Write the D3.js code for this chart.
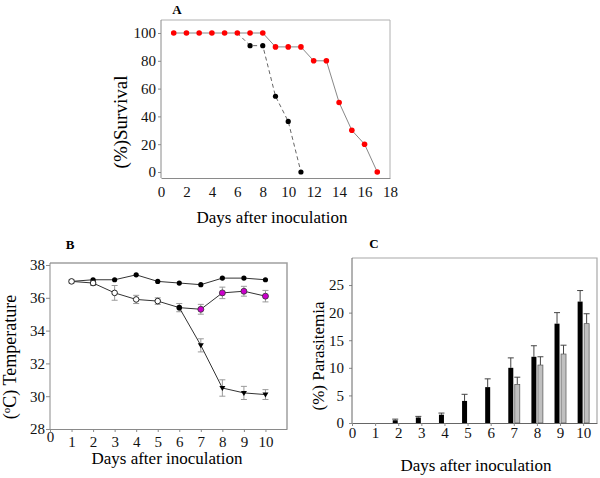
<!DOCTYPE html>
<html><head><meta charset="utf-8">
<script src="https://cdn.jsdelivr.net/npm/d3@7/dist/d3.min.js"></script>
<style>
html,body{margin:0;padding:0;background:#fff;}
svg{display:block;}
svg text{font-family:"Liberation Serif","Times New Roman",serif;}
</style></head><body>
<svg id="c" width="600" height="478"></svg>
<script>
// ---- Panel A: survival ----
const survDaysTreated = [1,2,3,4,5,6,7,8,9,10,11,12,13,14,15,16,17];
const survTreated = [100,100,100,100,100,100,100,100,90,90,90,80,80,50,30,20,0];
const survDaysControl = [1,2,3,4,5,6,7,8,9,10,11];
const survControl = [100,100,100,100,100,100,90.9,90.9,54.5,36.4,0];
const survXTicks = [0,2,4,6,8,10,12,14,16,18];
const survYTicks = [0,20,40,60,80,100];

// ---- Panel B: temperature ----
const tempDays = [1,2,3,4,5,6,7,8,9,10];
const tempControl = [37.0,37.1,37.1,37.4,37.0,36.9,36.8,37.2,37.2,37.1];
const tempInfDays = [1,2,3,4,5,6];
const tempInf = [37.0,36.9,36.3,35.9,35.8,35.4];
const tempInfErr = [0.1,0.15,0.45,0.25,0.2,0.25];
const tempSurvDays = [6,7,8,9,10];
const tempSurv = [35.4,35.3,36.3,36.4,36.1];
const tempSurvErr = [0.25,0.3,0.35,0.3,0.35];
const tempDeadDays = [6,7,8,9,10];
const tempDead = [35.4,33.1,30.5,30.2,30.1];
const tempDeadErr = [0.25,0.4,0.5,0.4,0.3];
const tempXTicks = [0,1,2,3,4,5,6,7,8,9,10];
const tempYTicks = [28,30,32,34,36,38];

// ---- Panel C: parasitemia ----
const paraDays = [1,2,3,4,5,6,7,8,9,10];
const paraBlack = [0,0.5,1.0,1.5,4.0,6.5,10,12,18,22];
const paraBlackErr = [0,0.2,0.2,0.3,1.2,1.5,1.8,2.0,2.0,2.0];
const paraGray = [0,0,0,0,0,0,7,10.5,12.5,18];
const paraGrayErr = [0,0,0,0,0,0,1.3,1.5,1.6,1.8];
const paraXTicks = [0,1,2,3,4,5,6,7,8,9,10];
const paraYTicks = [0,5,10,15,20,25];

const svg = d3.select("#c");
const axisCol = "#8a8a8a";

function styleAxis(g, fs){
  g.attr("font-family",null);
  g.select(".domain").attr("stroke", axisCol);
  g.selectAll(".tick line").attr("stroke", axisCol);
  g.selectAll(".tick text").attr("fill","#111").attr("font-size", fs);
}

// ================= Panel A =================
{
  const x = d3.scaleLinear().domain([0,18]).range([161,390]);
  const y = d3.scaleLinear().domain([0,100]).range([172,33]);
  const top = 20, bottom = 178;
  svg.append("path").attr("d",`M${x(0)},${top}H${x(18)}V${bottom}`).attr("fill","none").attr("stroke","#b0b0b0");
  const ya = svg.append("g").attr("transform",`translate(${x(0)},0)`)
    .call(d3.axisLeft(y).tickValues(survYTicks).tickSize(3).tickSizeOuter(0).tickPadding(2));
  ya.select(".domain").remove();
  svg.append("line").attr("x1",x(0)).attr("x2",x(0)).attr("y1",top).attr("y2",bottom).attr("stroke",axisCol);
  styleAxis(ya,"15px");
  const xa = svg.append("g").attr("transform",`translate(0,${bottom})`)
    .call(d3.axisBottom(x).tickValues(survXTicks).tickSize(0).tickPadding(8));
  styleAxis(xa,"15px");
  const line = d3.line().x(d=>x(d[0])).y(d=>y(d[1]));
  const ctrl = survDaysControl.map((d,i)=>[d,survControl[i]]);
  svg.append("path").datum(ctrl.slice(5)).attr("d",line).attr("fill","none")
    .attr("stroke","#666").attr("stroke-dasharray","4,3").attr("stroke-width",1);
  const trt = survDaysTreated.map((d,i)=>[d,survTreated[i]]);
  svg.append("path").datum(trt).attr("d",line).attr("fill","none").attr("stroke","#888").attr("stroke-width",1);
  svg.selectAll(".cdot").data(ctrl.slice(6)).enter().append("circle")
    .attr("cx",d=>x(d[0])).attr("cy",d=>y(d[1])).attr("r",2.6).attr("fill","#000");
  svg.selectAll(".tdot").data(trt).enter().append("circle")
    .attr("cx",d=>x(d[0])).attr("cy",d=>y(d[1])).attr("r",2.8).attr("fill","#ff0000");
  svg.append("text").attr("x",177).attr("y",14).attr("font-weight","bold").attr("font-size","13px").attr("text-anchor","middle").text("A");
  svg.append("text").attr("transform","translate(127,122) rotate(-90)").attr("text-anchor","middle")
    .attr("font-size","19px").text("(%)Survival");
  svg.append("text").attr("x",272).attr("y",223).attr("text-anchor","middle").attr("font-size","17px").text("Days after inoculation");
}

// ================= Panel B =================
{
  const x = d3.scaleLinear().domain([0,11]).range([50,287]);
  const y = d3.scaleLinear().domain([28,38]).range([429,265]);
  const top = 263, bottom = 429;
  svg.append("path").attr("d",`M${x(0)},${top}H${x(11)}V${bottom}`).attr("fill","none").attr("stroke","#a0a0a0").attr("stroke-width",1.5);
  const ya = svg.append("g").attr("transform",`translate(${x(0)},0)`)
    .call(d3.axisLeft(y).tickValues(tempYTicks).tickSize(4).tickSizeOuter(0).tickPadding(1));
  ya.select(".domain").remove();
  svg.append("line").attr("x1",x(0)).attr("x2",x(0)).attr("y1",top).attr("y2",bottom).attr("stroke",axisCol);
  styleAxis(ya,"15px");
  const xa = svg.append("g").attr("transform",`translate(0,${bottom})`)
    .call(d3.axisBottom(x).tickValues(tempXTicks).tickSize(3).tickSizeOuter(0).tickPadding(4));
  styleAxis(xa,"15px");
  xa.select(".tick text").attr("dy","0.4em");

  const line = d3.line().x(d=>x(d[0])).y(d=>y(d[1]));
  const ctrl = tempDays.map((d,i)=>[d,tempControl[i]]);
  const inf = tempInfDays.map((d,i)=>[d,tempInf[i],tempInfErr[i]]);
  const sv = tempSurvDays.map((d,i)=>[d,tempSurv[i],tempSurvErr[i]]);
  const dd = tempDeadDays.map((d,i)=>[d,tempDead[i],tempDeadErr[i]]);
  function errs(data){
    const g = svg.append("g").attr("stroke","#9a9a9a").attr("stroke-width",1);
    data.forEach(d=>{
      if(!d[2]) return;
      g.append("line").attr("x1",x(d[0])).attr("x2",x(d[0])).attr("y1",y(d[1]-d[2])).attr("y2",y(d[1]+d[2]));
      g.append("line").attr("x1",x(d[0])-3).attr("x2",x(d[0])+3).attr("y1",y(d[1]-d[2])).attr("y2",y(d[1]-d[2]));
      g.append("line").attr("x1",x(d[0])-3).attr("x2",x(d[0])+3).attr("y1",y(d[1]+d[2])).attr("y2",y(d[1]+d[2]));
    });
  }
  errs(inf); errs(sv.slice(1)); errs(dd.slice(1));
  [ctrl,inf,sv,dd].forEach(s=>{
    svg.append("path").datum(s).attr("d",line).attr("fill","none").attr("stroke","#333").attr("stroke-width",1);
  });
  svg.selectAll(".bc").data(ctrl).enter().append("circle")
    .attr("cx",d=>x(d[0])).attr("cy",d=>y(d[1])).attr("r",2.6).attr("fill","#000");
  svg.selectAll(".oc").data(inf.slice(0,5)).enter().append("circle")
    .attr("cx",d=>x(d[0])).attr("cy",d=>y(d[1])).attr("r",2.8).attr("fill","#fff").attr("stroke","#222").attr("stroke-width",1);
  svg.append("circle").attr("cx",x(inf[5][0])).attr("cy",y(inf[5][1])).attr("r",2.8).attr("fill","#000");
  svg.selectAll(".mc").data(sv.slice(1)).enter().append("circle")
    .attr("cx",d=>x(d[0])).attr("cy",d=>y(d[1])).attr("r",3).attr("fill","#cc00cc").attr("stroke","#333").attr("stroke-width",0.8);
  svg.selectAll(".tr").data(dd.slice(1)).enter().append("path")
    .attr("transform",d=>`translate(${x(d[0])},${y(d[1])})`)
    .attr("d","M-3,-2L3,-2L0,3Z").attr("fill","#000");
  svg.append("text").attr("x",70).attr("y",249).attr("font-weight","bold").attr("font-size","13px").attr("text-anchor","middle").text("B");
  const t = svg.append("text").attr("transform","translate(16,357) rotate(-90)").attr("text-anchor","middle").attr("font-size","18px");
  t.append("tspan").text("(");
  t.append("tspan").attr("font-size","11px").attr("dy","-6").text("o");
  t.append("tspan").attr("dy","6").text("C) Temperature");
  svg.append("text").attr("x",167).attr("y",464).attr("text-anchor","middle").attr("font-size","17px").text("Days after inoculation");
}

// ================= Panel C =================
{
  const x = d3.scaleLinear().domain([0,10.6]).range([352,597]);
  const y = d3.scaleLinear().domain([0,29.9]).range([423,258]);
  const top = 258, bottom = 423;
  svg.append("path").attr("d",`M${x(0)},${top}H${x(10.6)}V${bottom}`).attr("fill","none").attr("stroke","#a8a8a8").attr("stroke-width",1.2);
  const ya = svg.append("g").attr("transform",`translate(${x(0)},0)`)
    .call(d3.axisLeft(y).tickValues(paraYTicks).tickSize(3).tickSizeOuter(0).tickPadding(5));
  ya.select(".domain").remove();
  svg.append("line").attr("x1",x(0)).attr("x2",x(0)).attr("y1",top).attr("y2",bottom).attr("stroke","#666");
  styleAxis(ya,"15px");
  const xa = svg.append("g").attr("transform",`translate(0,${bottom})`)
    .call(d3.axisBottom(x).tickValues(paraXTicks).tickSize(3).tickSizeOuter(0).tickPadding(1));
  styleAxis(xa,"15px");
  xa.select(".domain").attr("stroke","#666");
  const bw = 5;
  const blk = paraDays.map((d,i)=>[d,paraBlack[i],paraBlackErr[i]]);
  const gry = paraDays.map((d,i)=>[d,paraGray[i],paraGrayErr[i]]);
  function whisk(data, off){
    const g = svg.append("g").attr("stroke","#444").attr("stroke-width",1);
    data.forEach(d=>{
      if(!d[1]) return;
      const cx = x(d[0])+off;
      g.append("line").attr("x1",cx).attr("x2",cx).attr("y1",y(d[1])).attr("y2",y(d[1]+d[2]));
      g.append("line").attr("x1",cx-3).attr("x2",cx+3).attr("y1",y(d[1]+d[2])).attr("y2",y(d[1]+d[2]));
    });
  }
  whisk(blk,-3); whisk(gry,3.5);
  svg.selectAll(".bb").data(blk.filter(d=>d[1]>0)).enter().append("rect")
    .attr("x",d=>x(d[0])-3-bw/2).attr("width",bw).attr("y",d=>y(d[1])).attr("height",d=>y(0)-y(d[1])).attr("fill","#000");
  svg.selectAll(".gb").data(gry.filter(d=>d[1]>0)).enter().append("rect")
    .attr("x",d=>x(d[0])+3.5-bw/2).attr("width",bw).attr("y",d=>y(d[1])).attr("height",d=>y(0)-y(d[1]))
    .attr("fill","#c0c0c0").attr("stroke","#555").attr("stroke-width",0.7);
  svg.append("text").attr("x",374).attr("y",248).attr("font-weight","bold").attr("font-size","13px").attr("text-anchor","middle").text("C");
  svg.append("text").attr("transform","translate(324,356) rotate(-90)").attr("text-anchor","middle")
    .attr("font-size","17px").text("(%) Parasitemia");
  svg.append("text").attr("x",476).attr("y",471).attr("text-anchor","middle").attr("font-size","17px").text("Days after inoculation");
}
</script>
</body></html>
